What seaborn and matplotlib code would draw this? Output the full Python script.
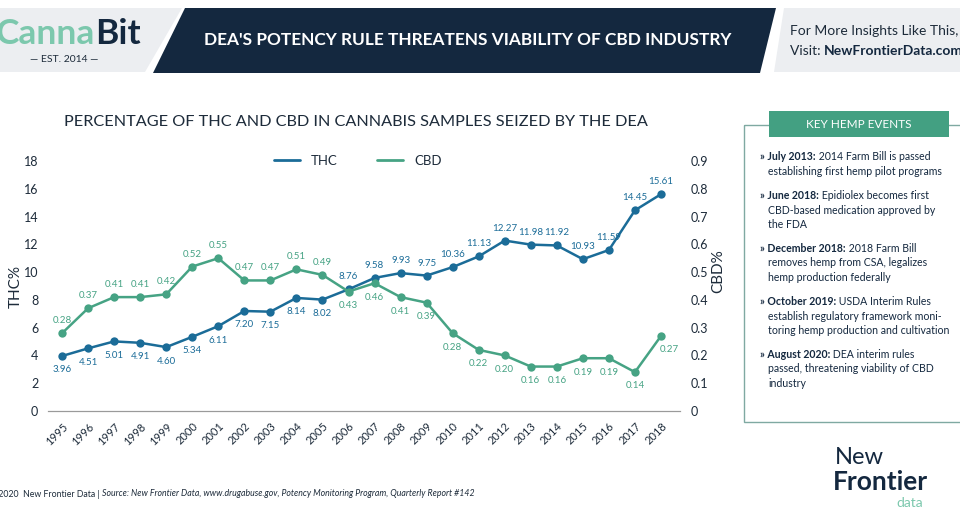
import numpy as np
import pandas as pd
import seaborn as sns
import matplotlib.pyplot as plt
from matplotlib.patches import Polygon, Rectangle
from matplotlib.lines import Line2D

years = [str(y) for y in range(1995, 2019)]
thc = [3.96, 4.51, 5.01, 4.91, 4.60, 5.34, 6.11, 7.20, 7.15, 8.14, 8.02, 8.76,
       9.58, 9.93, 9.75, 10.36, 11.13, 12.27, 11.98, 11.92, 10.93, 11.59, 14.45, 15.61]
cbd = [0.28, 0.37, 0.41, 0.41, 0.42, 0.52, 0.55, 0.47, 0.47, 0.51, 0.49, 0.43,
       0.46, 0.41, 0.39, 0.28, 0.22, 0.20, 0.16, 0.16, 0.19, 0.19, 0.14, 0.27]
thc_ticks = list(range(0, 20, 2))
cbd_ticks = [0, 0.1, 0.2, 0.3, 0.4, 0.5, 0.6, 0.7, 0.8, 0.9]

events = [
    ("» July 2013:", " 2014 Farm Bill is passed", ["establishing first hemp pilot programs"]),
    ("» June 2018:", " Epidiolex becomes first", ["CBD-based medication approved by", "the FDA"]),
    ("» December 2018:", " 2018 Farm Bill", ["removes hemp from CSA, legalizes", "hemp production federally"]),
    ("» October 2019:", " USDA Interim Rules", ["establish regulatory framework moni-", "toring hemp production and cultivation"]),
    ("» August 2020:", " DEA interim rules", ["passed, threatening viability of CBD", "industry"]),
]

THC_C = "#1b6c98"
CBD_C = "#46a384"
NAVY = "#14283f"
TXT = "#1d2b3a"

sns.set_theme(style="white")
plt.rcParams['font.family'] = ['Lato', 'DejaVu Sans']

df = pd.DataFrame({"i": range(len(years)), "year": years, "thc": thc, "cbd": cbd})

fig = plt.figure(figsize=(9.6, 5.21), dpi=100)
fig.patch.set_facecolor("white")

# background layer in pixel coords
bg = fig.add_axes([0, 0, 1, 1])
bg.set_xlim(0, 960)
bg.set_ylim(521, 0)
bg.axis("off")

# header band
bg.add_patch(Polygon([(0, 8), (182, 8), (145, 72), (0, 72)], color="#eceef1", lw=0))
bg.add_patch(Polygon([(185, 8), (776, 8), (760, 73), (153, 73)], color=NAVY, lw=0))
bg.add_patch(Polygon([(784, 8), (960, 8), (960, 72), (774, 72)], color="#eceef1", lw=0))
bg.text(468, 40, "DEA'S POTENCY RULE THREATENS VIABILITY OF CBD INDUSTRY", color="white",
        fontsize=12.4, fontweight="bold", ha="center", va="center")
t = bg.text(-4, 34, "Canna", color="#7cc8ad", fontsize=25.5, fontweight="bold", va="center")
fig.canvas.draw()
bb = t.get_window_extent()
bg.text(bb.x1, 34, "Bit", color=NAVY, fontsize=25.5, fontweight="bold", va="center")
bg.text(64, 59, "— EST. 2014 —", color=TXT, fontsize=7.5, ha="center", va="center")
bg.text(790, 31, "For More Insights Like This,", color=TXT, fontsize=10, va="center")
t = bg.text(790, 51, "Visit: ", color=TXT, fontsize=10, va="center")
fig.canvas.draw()
bb = t.get_window_extent()
bg.text(bb.x1, 51, "NewFrontierData.com", color=NAVY, fontsize=10, fontweight="bold", va="center")

# chart title
bg.text(356, 122, "PERCENTAGE OF THC AND CBD IN CANNABIS SAMPLES SEIZED BY THE DEA",
        color=TXT, fontsize=11.7, ha="center", va="center")

# key events box
bg.add_patch(Rectangle((744, 125), 230, 297, fill=False, ec="#7fa9a2", lw=1))
bg.add_patch(Rectangle((769, 111), 180, 26, color="#43a082", lw=0))
bg.text(859, 125, "KEY HEMP EVENTS", color="white", fontsize=8.5, ha="center", va="center")
y = 157
for bold, rest, lines in events:
    t = bg.text(760, y, bold, color=NAVY, fontsize=7.6, fontweight="bold", va="center")
    fig.canvas.draw()
    bb = t.get_window_extent()
    bg.text(bb.x1, y, rest, color=NAVY, fontsize=7.6, va="center")
    for ln in lines:
        y += 14.5
        bg.text(768, y, ln, color=NAVY, fontsize=7.6, va="center")
    y += 24

# footer
t = bg.text(-9, 494, "©2020  New Frontier Data | ", color=TXT, fontsize=6.3, va="center")
fig.canvas.draw()
bb = t.get_window_extent()
bg.text(bb.x1, 494, "Source: New Frontier Data, www.drugabuse.gov, Potency Monitoring Program, Quarterly Report #142",
        color=TXT, fontsize=6.3, style="italic", va="center")

# logo
bg.text(835, 457, "New", color=NAVY, fontsize=17, va="center")
bg.text(833, 482, "Frontier", color=NAVY, fontsize=19, fontweight="bold", va="center")
bg.text(896, 503, "data", color="#7cc8ad", fontsize=10, va="center")

# main chart
ax = fig.add_axes([48 / 960, 110 / 521, 632 / 960, 250 / 521])
ax.set_facecolor("none")
ax2 = ax.twinx()

sns.lineplot(data=df, x="i", y="thc", ax=ax, color=THC_C, marker="o", markersize=6,
             markeredgewidth=0, linewidth=1.8)
sns.lineplot(data=df, x="i", y="cbd", ax=ax2, color=CBD_C, marker="o", markersize=6,
             markeredgewidth=0, linewidth=1.8)

ax.set_xlim(-0.54, 23.73)
ax.set_ylim(0, 18)
ax2.set_ylim(0, 0.9)
ax.set_xticks(range(len(years)))
ax.set_xticklabels(years, rotation=45, ha="right", rotation_mode="anchor", fontsize=8, color=TXT)
ax.set_yticks(thc_ticks)
ax.set_yticklabels([str(v) for v in thc_ticks], fontsize=9, color=TXT)
ax2.set_yticks(cbd_ticks)
ax2.set_yticklabels(["0" if v == 0 else f"{v:.1f}" for v in cbd_ticks], fontsize=9, color=TXT)
ax.tick_params(axis="both", length=0, pad=7)
ax2.tick_params(axis="y", length=0, pad=8)
ax.set_xlabel("")
ax.set_ylabel("THC%", fontsize=11, color=TXT)
ax2.set_ylabel("CBD%", fontsize=11, color=TXT, rotation=90)
ax.yaxis.set_label_coords(-0.04, 0.5)
ax2.yaxis.set_label_coords(1.05, 0.56)

for a in (ax, ax2):
    for s in ("top", "left", "right"):
        a.spines[s].set_visible(False)
    a.spines["bottom"].set_color("#9a9a9a")
    a.spines["bottom"].set_linewidth(0.8)
    a.grid(False)

# data labels
for i, v in enumerate(thc):
    dy = -10 if i <= 10 else 9
    ax.annotate(f"{v:.2f}", (i, v), xytext=(0, dy), textcoords="offset points",
                ha="center", va="center", fontsize=7, color=THC_C)
for i, v in enumerate(cbd):
    dy = 9 if i <= 10 else -10
    dx = 6 if i == len(cbd) - 1 else 0
    ax2.annotate(f"{v:.2f}", (i, v), xytext=(dx, dy), textcoords="offset points",
                 ha="center", va="center", fontsize=7, color=CBD_C)

handles = [Line2D([], [], color=THC_C, lw=2), Line2D([], [], color=CBD_C, lw=2)]
ax2.legend(handles, ["THC", "CBD"], loc="center", bbox_to_anchor=(0.49, 1.0), ncol=2,
           frameon=False, fontsize=9.5, handlelength=2, columnspacing=3, labelcolor=TXT)

fig.savefig("out.png", dpi=100)
